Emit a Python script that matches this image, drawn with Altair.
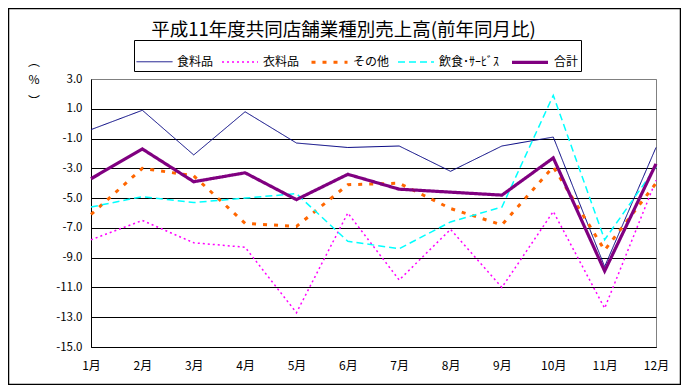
import altair as alt
import pandas as pd

months = ["1月", "2月", "3月", "4月", "5月", "6月", "7月", "8月", "9月", "10月", "11月", "12月"]
series_names = ["食料品", "衣料品", "その他", "飲食･ｻｰﾋﾞｽ", "合計"]

food = [-0.4, 0.9, -2.1, 0.8, -1.3, -1.6, -1.5, -3.2, -1.5, -0.9, -9.6, -1.6]
clothing = [-7.8, -6.5, -8.0, -8.3, -12.7, -6.0, -10.5, -7.1, -11.0, -5.9, -12.4, -3.8]
other = [-6.1, -3.0, -3.5, -6.7, -6.9, -4.1, -4.0, -5.7, -6.8, -2.9, -8.5, -4.0]
dining = [-5.6, -4.9, -5.3, -5.0, -4.7, -7.9, -8.4, -6.6, -5.6, 1.9, -7.8, -2.9]
total = [-3.7, -1.7, -3.9, -3.3, -5.1, -3.4, -4.4, -4.6, -4.8, -2.3, -9.9, -2.7]

y_ticks = [3, 1, -1, -3, -5, -7, -9, -11, -13, -15]

title_text = "平成11年度共同店舗業種別売上高(前年同月比)"
unit_open, unit_mid, unit_close = "︵", "%", "︶"

rows = []
for name, vals in zip(series_names, [food, clothing, other, dining, total]):
    for m, v in zip(months, vals):
        rows.append({"month": m, "series": name, "value": v})
df = pd.DataFrame(rows)

colors = ["#000080", "#FF00FF", "#FF6600", "#00FFFF", "#800080"]
dashes = [[1, 0], [2, 3], [4, 7], [7, 4], [1, 0]]
widths = [1, 1.5, 3, 1.5, 3.2]

FONT = "Noto Sans CJK JP"
W, H = 565, 268

leg = dict(title=None, orient="none", legendX=43, legendY=-39, direction="horizontal")

lines = alt.Chart(df).mark_line(strokeCap="butt", strokeJoin="miter").encode(
    x=alt.X("month:N", sort=months, title=None,
            scale=alt.Scale(type="point", padding=0),
            axis=alt.Axis(labelAngle=0, ticks=False, tickSize=0, labelPadding=13,
                          domainColor="black", labelFontSize=12, labelColor="black",
                          gridColor={"condition": {"test": "datum.value === '12月'", "value": "#808080"},
                                     "value": "black"})),
    y=alt.Y("value:Q", title=None,
            scale=alt.Scale(domain=[-15, 3], nice=False, zero=False),
            axis=alt.Axis(values=y_ticks, labelExpr="datum.value + '.0'", ticks=False, tickSize=0,
                          labelPadding=9, domainColor="black", labelFontSize=11.5, labelColor="black",
                          gridColor={"condition": {"test": "datum.value === 3", "value": "#808080"},
                                     "value": "black"})),
    color=alt.Color("series:N", sort=series_names,
                    scale=alt.Scale(domain=series_names, range=colors), legend=alt.Legend(**leg)),
    strokeDash=alt.StrokeDash("series:N", sort=series_names,
                              scale=alt.Scale(domain=series_names, range=dashes), legend=alt.Legend(**leg)),
    strokeWidth=alt.StrokeWidth("series:N", sort=series_names,
                                scale=alt.Scale(type="ordinal", domain=series_names, range=widths),
                                legend=alt.Legend(**leg)),
    order=alt.Order("month_idx:Q"),
).transform_calculate(month_idx="indexof(" + str(months) + ", datum.month)")

one = pd.DataFrame({"a": [0]})

frame = alt.Chart(one).mark_rect(fill=None, stroke="black", strokeWidth=1.5).encode(
    x=alt.value(-82.5), x2=alt.value(W + 24.5), y=alt.value(-70.5), y2=alt.value(H + 37.5)
)

title = alt.Chart(one).mark_text(font=FONT, fontSize=18.5, baseline="middle", align="center",
                                 color="black").encode(
    x=alt.value(252.5), y=alt.value(-49), text=alt.value(title_text)
)

def unit_mark(txt, yv):
    return alt.Chart(one).mark_text(font=FONT, fontSize=12, baseline="middle", align="center",
                                    color="black").encode(
        x=alt.value(-57), y=alt.value(yv), text=alt.value(txt)
    )

chart = alt.layer(frame, lines, title,
                  unit_mark(unit_open, -17), unit_mark(unit_mid, 1), unit_mark(unit_close, 23)).properties(
    width=W, height=H, autosize="none",
    padding={"left": 83, "top": 71, "right": 25, "bottom": 38},
    background="white",
).configure_view(stroke="#808080", strokeWidth=1).configure_axis(
    labelFont=FONT, gridWidth=1, domainWidth=1
).configure_legend(
    labelFont=FONT, labelFontSize=12, labelColor="black", symbolType="stroke", symbolSize=1296,
    labelOffset=4, columnPadding=5, padding=2, strokeColor="black",
)

chart.save("out.html", embed_options={"renderer": "svg", "actions": False})
